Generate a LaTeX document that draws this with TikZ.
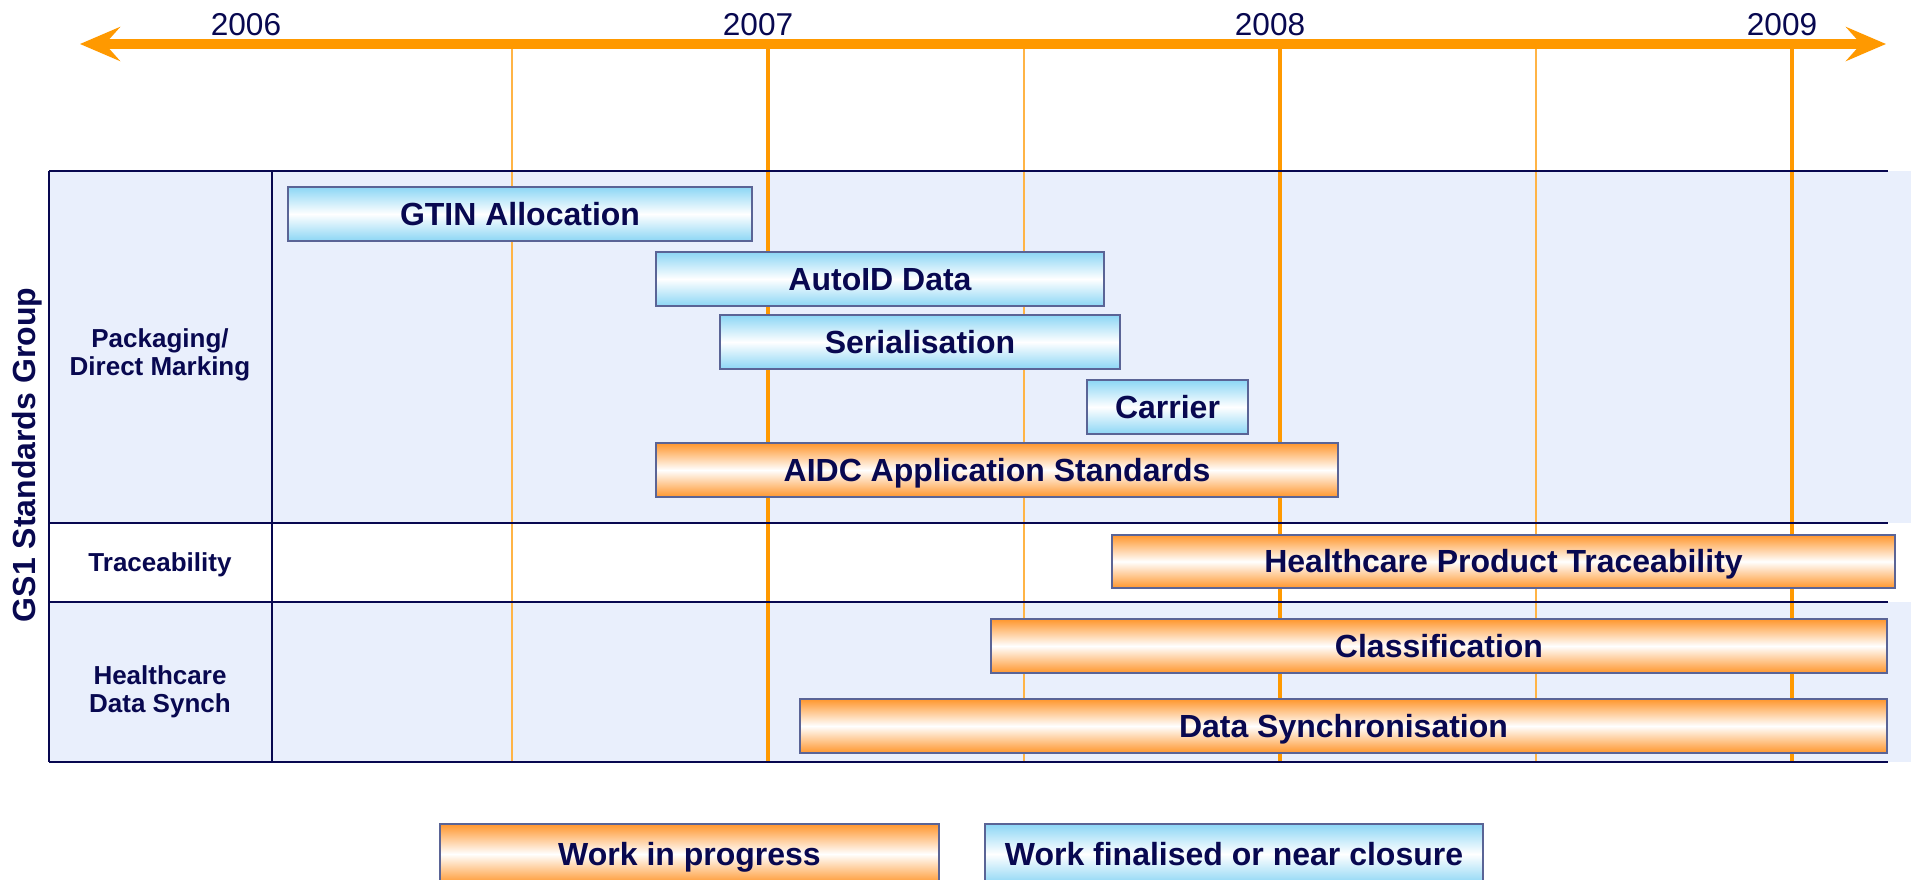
\documentclass[tikz,border=0pt]{standalone}
\usepackage{fontspec}
\setmainfont{Liberation Sans}
\usetikzlibrary{arrows.meta}
\definecolor{navy}{RGB}{8,8,80}
\definecolor{axisorange}{RGB}{255,153,0}
\definecolor{gridthin}{RGB}{255,180,70}
\definecolor{rowfill}{RGB}{233,239,252}
\definecolor{barblue}{RGB}{140,214,245}
\definecolor{barorange}{RGB}{255,150,45}
\definecolor{barline}{RGB}{90,100,150}
\newcommand\gbar[7]{%
  \node[#1, minimum width={(#4-#3)*0.5pt}, minimum height={(#6-#5)*0.5pt}] (#2) at ({(#3+#4)/2},{(#5+#6)/2+1}) {#7};}
\begin{document}
\begin{tikzpicture}[x=0.5pt,y=-0.5pt,
  barbase/.style={draw=barline, line width=0.6pt, inner sep=0pt,
    font=\fontsize{16}{19}\selectfont\bfseries, text=navy, text height=11.2pt, text depth=0pt},
  bluebar/.style={barbase, top color=barblue, bottom color=barblue, middle color=white},
  orangebar/.style={barbase, top color=barorange, bottom color=barorange, middle color=white},
  year/.style={font=\fontsize{15.8}{19}\selectfont, text=navy, inner sep=0pt},
  rowlabel/.style={font=\fontsize{13}{14}\selectfont\bfseries, text=navy, align=center, inner sep=0pt},
  tableline/.style={draw=navy, line width=1.2pt},
  thickgrid/.style={draw=axisorange, line width=2pt},
  thingrid/.style={draw=gridthin, line width=0.8pt},
  axisarrow/.style={draw=axisorange, line width=5pt,
    {Stealth[length=20pt,width=17pt,inset=7.5pt]}-{Stealth[length=20pt,width=17pt,inset=7.5pt]}}
]
\useasboundingbox (0,0) rectangle (1911,879);
\begin{scope}
\clip (0,0) rectangle (1911,879);
% row fills
\fill[rowfill] (49,171) rectangle (1911,523);
\fill[rowfill] (49,602) rectangle (1911,762);
% grid lines
\foreach \x in {512,1024,1536} \draw[thingrid] (\x,44) -- (\x,762);
\foreach \x in {768,1280,1792} \draw[thickgrid] (\x,44) -- (\x,762);
% axis
\coordinate (axL) at (80,44);
\coordinate (axR) at (1886,44);
\draw[axisarrow] (axL) -- (axR);
\node[year] (y2006) at (246,25) {2006};
\node[year] (y2007) at (758,25) {2007};
\node[year] (y2008) at (1270,25) {2008};
\node[year] (y2009) at (1782,25) {2009};
% table lines
\draw[tableline] (49,171) -- (1888,171);
\draw[tableline] (49,523) -- (1888,523);
\draw[tableline] (49,602) -- (1888,602);
\draw[tableline] (49,762) -- (1888,762);
\draw[tableline] (49,171) -- (49,762);
\draw[tableline] (272,171) -- (272,762);
% labels
\node[rotate=90, font=\fontsize{16}{19}\selectfont\bfseries, text=navy, inner sep=0pt] (gs1) at (27,455) {GS1 Standards Group};
\node[rowlabel] (pack) at (160,355) {Packaging/\\Direct Marking};
\node[rowlabel] (trace) at (160,565) {Traceability};
\node[rowlabel] (synch) at (160,692) {Healthcare\\Data Synch};
% bars
\gbar{bluebar}{gtin}{288}{752}{186}{240}{GTIN Allocation}
\gbar{bluebar}{autoid}{656}{1104}{251}{305}{AutoID Data}
\gbar{bluebar}{serial}{720}{1120}{314}{368}{Serialisation}
\gbar{bluebar}{carrier}{1087}{1248}{379}{433}{Carrier}
\gbar{orangebar}{aidc}{656}{1338}{442}{496}{AIDC Application Standards}
\gbar{orangebar}{hpt}{1112}{1895}{534}{587}{Healthcare Product Traceability}
\gbar{orangebar}{classif}{991}{1887}{618}{672}{Classification}
\gbar{orangebar}{datasync}{800}{1887}{698}{752}{Data Synchronisation}
% legend
\gbar{orangebar}{wip}{440}{939}{823}{883}{Work in progress}
\gbar{bluebar}{final}{985}{1483}{823}{883}{Work finalised or near closure}
\end{scope}
\end{tikzpicture}
\end{document}
